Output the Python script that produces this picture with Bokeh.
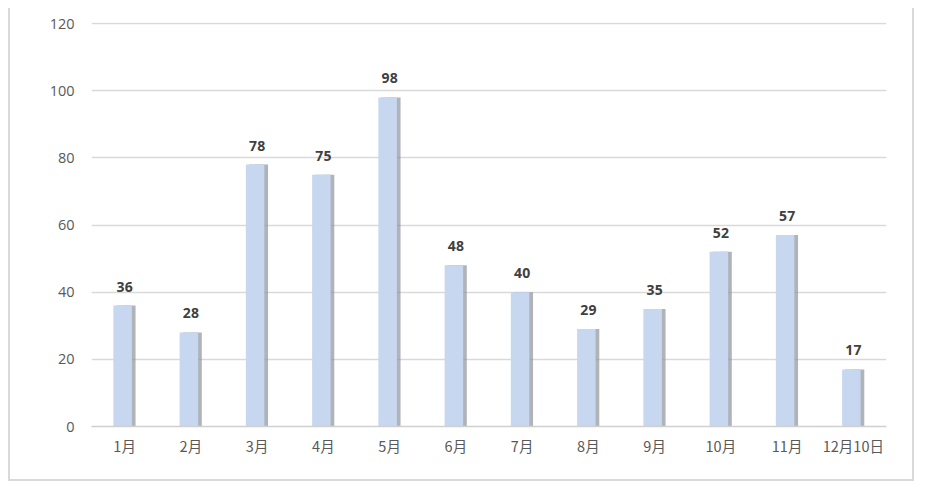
from bokeh.plotting import figure
from bokeh.models import ColumnDataSource, Range1d, FactorRange
from bokeh.transform import dodge
from bokeh.core.properties import value
from bokeh.embed import file_html
from bokeh.resources import INLINE

months = ["1月", "2月", "3月", "4月", "5月", "6月", "7月", "8月", "9月", "10月", "11月", "12月10日"]
counts = [36, 28, 78, 75, 98, 48, 40, 29, 35, 52, 57, 17]
y_ticks = [0, 20, 40, 60, 80, 100, 120]

src = ColumnDataSource(dict(m=months, v=counts, lbl=[str(c) for c in counts]))

p = figure(x_range=FactorRange(*months, range_padding=0), y_range=Range1d(0, 120.3),
           width=906, height=473, output_backend="svg", toolbar_location=None,
           min_border_left=81, min_border_right=30, min_border_top=14, min_border_bottom=55)
p.styles = {"margin-left": "8px", "margin-top": "8px",
            "border-left": "2px solid #d9d9d9", "border-right": "2px solid #d9d9d9",
            "border-bottom": "2px solid #d9d9d9"}
p.outline_line_color = None
p.background_fill_color = "white"
p.border_fill_color = "white"

# shadow
p.vbar(x=dodge("m", 0.05, range=p.x_range), top="v", width=0.12, source=src,
       fill_color="#c4c7cc", line_color=None, fill_alpha=0.6)
p.vbar(x=dodge("m", 0.02, range=p.x_range), top="v", width=0.29, source=src,
       fill_color="#8e949b", line_color=None, fill_alpha=0.7)
# bar body
p.vbar(x=dodge("m", -0.03, range=p.x_range), top="v", width=0.28, source=src,
       fill_color="#c6d7ef", line_color=None)

p.text(x="m", y="v", text="lbl", source=src, text_align="center", text_baseline="alphabetic",
       y_offset=-19, text_font=value("Open Sans"), text_font_style="bold",
       text_font_size="14px", text_color="#404040")

p.yaxis.ticker = y_ticks
p.yaxis.axis_line_color = None
p.yaxis.major_tick_line_color = None
p.yaxis.minor_tick_line_color = None
p.yaxis.major_label_standoff = 11
p.yaxis.major_label_text_font = "Open Sans"
p.yaxis.major_label_text_font_size = "14.5px"
p.yaxis.major_label_text_color = "#595959"

p.xaxis.axis_line_color = "#d0d0d0"
p.xaxis.axis_line_width = 1.5
p.xaxis.major_tick_line_color = None
p.xaxis.minor_tick_line_color = None
p.xaxis.major_label_standoff = 2
p.xaxis.major_label_text_font = "Noto Sans CJK SC"
p.xaxis.major_label_text_font_size = "14.5px"
p.xaxis.major_label_text_color = "#595959"

p.xgrid.grid_line_color = None
p.ygrid.grid_line_color = "#d9d9d9"
p.ygrid.grid_line_width = 1.5

open("out.html", "w").write(file_html(p, INLINE))
